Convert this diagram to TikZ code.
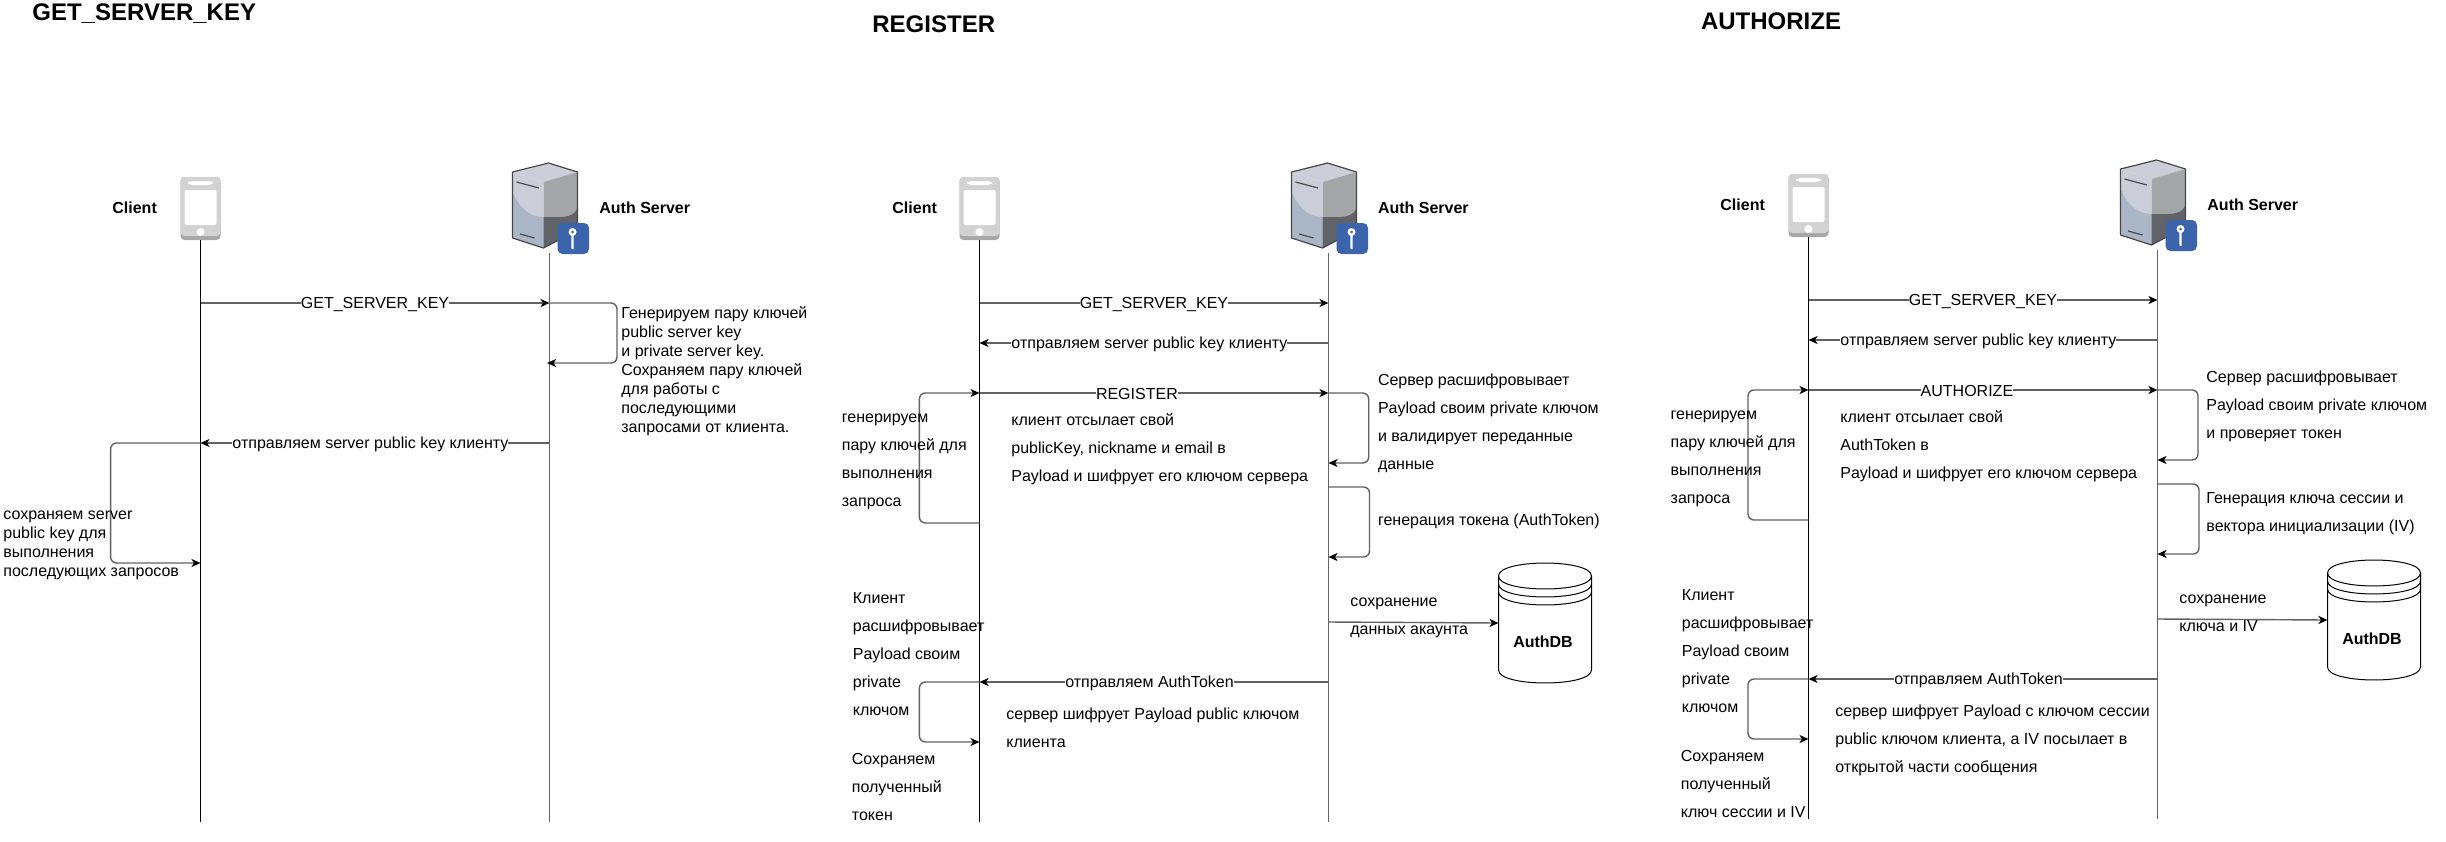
\documentclass[tikz,border=0pt]{standalone}
\usepackage{fontspec}
\setmainfont{Liberation Sans}
\usetikzlibrary{arrows.meta}
\definecolor{srvlight}{HTML}{CBCED9}
\definecolor{srvblue}{HTML}{AAB5C6}
\definecolor{srvgray}{HTML}{A4A5A6}
\definecolor{srvdark}{HTML}{606367}
\definecolor{keyblue}{HTML}{3B64AD}
\definecolor{phonegray}{HTML}{D2D2D2}
\definecolor{phonedark}{HTML}{A6A6A6}

\begin{document}
\begin{tikzpicture}[
    x=0.5pt,y=-0.5pt,
    lifeline/.style={line width=.4pt,black},
    srvline/.style={line width=.5pt,black!60},
    msg/.style={line width=.7pt,black!62,-{Stealth[length=4.5pt,width=4pt,inset=1.2pt,color=black]}},
    selfmsg/.style={msg,rounded corners=3pt},
    msg label/.style={fill=white,inner sep=0pt,yshift=-.5pt,text=black,font=\fontsize{8}{9.5}\selectfont},
    heading/.style={anchor=west,inner sep=0pt,font=\fontsize{12}{14}\selectfont\bfseries},
    actor/.style={anchor=west,inner sep=0pt,font=\fontsize{8}{9.5}\selectfont\bfseries},
    note/.style={anchor=north west,align=left,inner sep=0pt,yshift=-.75pt,font=\fontsize{8}{9.5}\selectfont,
        execute at begin node={\rule{0pt}{7pt}}},
    tall note/.style={note,font=\fontsize{8}{14}\selectfont},
    phone/.pic={
        \fill[phonedark,rounded corners=2pt] (-20,-63) rectangle (20,0);
        \fill[phonegray,rounded corners=2pt] (-20,-63) rectangle (20,-4);
        \fill[white,rounded corners=1pt] (-16,-50) rectangle (16,-15);
        \fill[white,rounded corners=2pt] (-12.5,-59) rectangle (12.5,-55);
        \fill[white] (0,-8) circle (4);
        \coordinate (-base) at (0,0);
    },
    authserver/.pic={
        \fill[srvlight] (-37,-81) -- (-1,-90) -- (28,-81) -- (-6,-71) -- cycle;
        \fill[srvlight] (-37,-81) -- (-6,-71) -- (-6,-5) -- (-37,-15) -- cycle;
        \fill[srvgray] (-6,-71) -- (28,-81) -- (28,-23) -- (-6,-5) -- cycle;
        \fill[srvblue] (-37,-61) .. controls (-30,-45) and (-20,-36) .. (-6,-36) -- (-6,-5) -- (-37,-15) -- cycle;
        \fill[srvdark] (-6,-36) .. controls (10,-36) and (24,-34) .. (28,-45) -- (28,-23) -- (-6,-5) -- cycle;
        \draw[black!72,line width=.6pt,line join=round] (-37,-81) -- (-1,-90) -- (28,-81) -- (28,-23) -- (-6,-5) -- (-37,-15) -- cycle;
        \draw[black!70,line width=.6pt] (-33,-71) -- (-10.5,-65);
        \draw[black!70,line width=.6pt] (-29.5,-19) -- (-15,-15);
        \fill[keyblue,rounded corners=2.5pt] (8,-30) rectangle (39.5,1);
        \fill[white] (23,-21) circle (4);
        \fill[keyblue] (23,-21) circle (1.5);
        \fill[white] (21.8,-18) -- (24.2,-18) -- (24,-4) -- (22,-4) -- cycle;
        \coordinate (-base) at (0,0);
    },
    datastore/.pic={
        \draw[line width=.5pt,fill=white] (-46.5,13) .. controls (-46.5,-4.3) and (46.5,-4.3) .. (46.5,13)
            -- (46.5,107) .. controls (46.5,124.3) and (-46.5,124.3) .. (-46.5,107) -- cycle;
        \draw[line width=.5pt] (-46.5,13) .. controls (-46.5,30.3) and (46.5,30.3) .. (46.5,13);
        \draw[line width=.5pt] (-46.5,21) .. controls (-46.5,38.3) and (46.5,38.3) .. (46.5,21);
        \draw[line width=.5pt] (-46.5,29) .. controls (-46.5,46.3) and (46.5,46.3) .. (46.5,29);
        \coordinate (-west) at (-46.5,60);
    }]

    \useasboundingbox (0,0) rectangle (2446,841);

    % GET_SERVER_KEY
    \node[heading] (gktitle) at (32,14) {GET\_SERVER\_KEY};
    \node[actor] (gkclient) at (112,208) {Client};
    \node[actor] (gkauth) at (599,208) {Auth Server};
    \pic (gkphone) at (200.5,240) {phone};
    \pic (gkserver) at (549.5,253) {authserver};
    \coordinate (gkcend) at (200.5,822);
    \coordinate (gksend) at (549.5,822);
    \draw[lifeline] (gkphone-base) -- (gkcend);
    \draw[srvline] (gkserver-base) -- (gksend);

    \coordinate (gks1) at (549.5,303);
    \coordinate (gkc1) at (200.5,303);
    \coordinate (gks2) at (547,363);
    \coordinate (gks3) at (549.5,443);
    \coordinate (gkc3) at (200.5,443);
    \coordinate (gkc4) at (200.5,563);
    \draw[msg] (gkc1) -- node[msg label] (gkreq) {GET\_SERVER\_KEY} (gks1);
    \draw[selfmsg] (gks1) -- (617,303) -- (617,363) -- (gks2);
    \draw[msg] (gks3) -- node[msg label,pos=.513] (gkresp) {отправляем server public key клиенту} (gkc3);
    \draw[selfmsg] (gkc3) -- (110.6,443) -- (110.6,563) -- (gkc4);
    \node[note] (gknoteA) at (621,305) {Генерируем пару ключей\\public server key\\и private server key.\\Сохраняем пару ключей\\для работы с\\последующими\\запросами от клиента.};
    \node[note] (gknoteB) at (3,509) {сохраняем server\\public key для\\выполнения\\последующих запросов};

    % REGISTER
    \node[heading] (regtitle) at (872,24) {REGISTER};
    \node[actor] (regclient) at (892,208) {Client};
    \node[actor] (regauth) at (1377.6,208) {Auth Server};
    \pic (regphone) at (979.5,240) {phone};
    \pic (regserver) at (1328.5,253) {authserver};
    \pic (regdb) at (1545,563) {datastore};
    \node[actor,anchor=center] (regdblabel) at (1543,642) {AuthDB};
    \coordinate (regcend) at (979.5,822);
    \coordinate (regsend) at (1328.5,822);
    \draw[lifeline] (regphone-base) -- (regcend);
    \draw[srvline] (regserver-base) -- (regsend);

    \coordinate (regc1) at (979.5,303);
    \coordinate (regs1) at (1328.5,303);
    \coordinate (regc2) at (979.5,343);
    \coordinate (regs2) at (1328.5,343);
    \coordinate (regc3) at (979.5,393);
    \coordinate (regs3) at (1328.5,393);
    \coordinate (regs4) at (1328.5,463);
    \coordinate (regc4) at (979.5,523);
    \coordinate (regs5) at (1328.5,487);
    \coordinate (regs6) at (1328.5,557);
    \coordinate (regs7) at (1328.5,622);
    \coordinate (regc8) at (979.5,682);
    \coordinate (regs8) at (1328.5,682);
    \coordinate (regc9) at (979.5,742);
    \draw[msg] (regc1) -- node[msg label] (regkey) {GET\_SERVER\_KEY} (regs1);
    \draw[msg] (regs2) -- node[msg label,pos=.513] (regresp) {отправляем server public key клиенту} (regc2);
    \draw[msg] (regc3) -- node[msg label,pos=.451] (regreq) {REGISTER} (regs3);
    \draw[selfmsg] (regc4) -- (919.4,523) -- (919.4,393) -- (regc3);
    \draw[selfmsg] (regs3) -- (1368.7,393) -- (1368.7,463) -- (regs4);
    \draw[selfmsg] (regs5) -- (1369.5,487) -- (1369.5,557) -- (regs6);
    \draw[msg] (regs7) -- (regdb-west);
    \draw[msg] (regs8) -- node[msg label,pos=.513] (regtoken) {отправляем AuthToken} (regc8);
    \draw[selfmsg] (regc8) -- (919.4,682) -- (919.4,742) -- (regc9);
    \node[tall note] (regnoteA) at (841.5,412) {генерируем\\пару ключей для\\выполнения\\запроса};
    \node[tall note] (regnoteB) at (1011,412) {клиент отсылает свой\\publicKey, nickname и email в\\Payload и шифрует его ключом сервера};
    \node[tall note] (regnoteC) at (1377.6,372) {Сервер расшифровывает\\Payload своим private ключом\\и валидирует переданные\\данные};
    \node[tall note] (regnoteD) at (1377.6,510) {генерация токена (AuthToken)};
    \node[tall note] (regnoteE) at (1350,596) {сохранение\\данных акаунта};
    \node[tall note] (regnoteF) at (852.5,591) {Клиент\\расшифровывает\\Payload своим\\private\\ключом};
    \node[tall note] (regnoteG) at (1006,706) {сервер шифрует Payload public ключом\\клиента};
    \node[tall note] (regnoteH) at (851.5,751) {Сохраняем\\полученный\\токен};

    % AUTHORIZE
    \node[heading] (authtitle) at (1700.6,21) {AUTHORIZE};
    \node[actor] (authclient) at (1720,205) {Client};
    \node[actor] (authauth) at (2207,205) {Auth Server};
    \pic (authphone) at (1808.5,237) {phone};
    \pic (authserver) at (2157.5,250) {authserver};
    \pic (authdb) at (2374,560) {datastore};
    \node[actor,anchor=center] (authdblabel) at (2372,639) {AuthDB};
    \coordinate (authcend) at (1808.5,819);
    \coordinate (authsend) at (2157.5,819);
    \draw[lifeline] (authphone-base) -- (authcend);
    \draw[srvline] (authserver-base) -- (authsend);

    \coordinate (authc1) at (1808.5,300);
    \coordinate (auths1) at (2157.5,300);
    \coordinate (authc2) at (1808.5,340);
    \coordinate (auths2) at (2157.5,340);
    \coordinate (authc3) at (1808.5,390);
    \coordinate (auths3) at (2157.5,390);
    \coordinate (auths4) at (2157.5,460);
    \coordinate (authc4) at (1808.5,520);
    \coordinate (auths5) at (2157.5,484);
    \coordinate (auths6) at (2157.5,554);
    \coordinate (auths7) at (2157.5,619);
    \coordinate (authc8) at (1808.5,679);
    \coordinate (auths8) at (2157.5,679);
    \coordinate (authc9) at (1808.5,739);
    \draw[msg] (authc1) -- node[msg label] (authkey) {GET\_SERVER\_KEY} (auths1);
    \draw[msg] (auths2) -- node[msg label,pos=.513] (authresp) {отправляем server public key клиенту} (authc2);
    \draw[msg] (authc3) -- node[msg label,pos=.454] (authreq) {AUTHORIZE} (auths3);
    \draw[selfmsg] (authc4) -- (1748,520) -- (1748,390) -- (authc3);
    \draw[selfmsg] (auths3) -- (2198,390) -- (2198,460) -- (auths4);
    \draw[selfmsg] (auths5) -- (2199,484) -- (2199,554) -- (auths6);
    \draw[msg] (auths7) -- (authdb-west);
    \draw[msg] (auths8) -- node[msg label,pos=.513] (authtoken) {отправляем AuthToken} (authc8);
    \draw[selfmsg] (authc8) -- (1748,679) -- (1748,739) -- (authc9);
    \node[tall note] (authnoteA) at (1670.3,409) {генерируем\\пару ключей для\\выполнения\\запроса};
    \node[tall note] (authnoteB) at (1840,409) {клиент отсылает свой\\AuthToken в\\Payload и шифрует его ключом сервера};
    \node[tall note] (authnoteC) at (2206,369) {Сервер расшифровывает\\Payload своим private ключом\\и проверяет токен};
    \node[tall note] (authnoteD) at (2206,491) {Генерация ключа сессии и\\вектора инициализации (IV)};
    \node[tall note] (authnoteE) at (2179,593) {сохранение\\ключа и IV};
    \node[tall note] (authnoteF) at (1681.5,588) {Клиент\\расшифровывает\\Payload своим\\private\\ключом};
    \node[tall note] (authnoteG) at (1835,703) {сервер шифрует Payload с ключом сессии\\public ключом клиента, а IV посылает в\\открытой части сообщения};
    \node[tall note] (authnoteH) at (1680.5,748) {Сохраняем\\полученный\\ключ сессии и IV};
\end{tikzpicture}
\end{document}
